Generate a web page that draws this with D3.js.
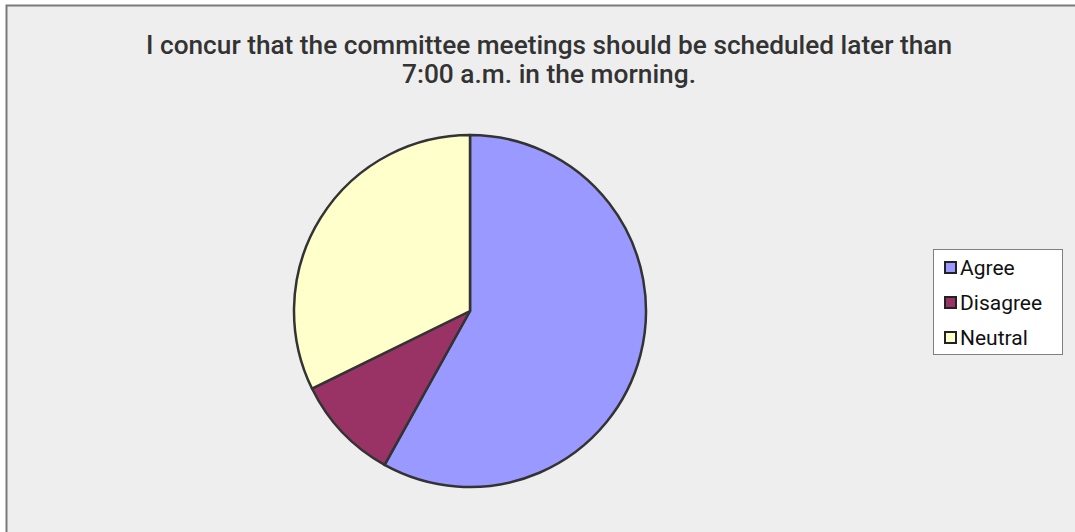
<!DOCTYPE html>
<html><head><meta charset="utf-8">
<script src="https://cdn.jsdelivr.net/npm/d3@7"></script>
<style>body{margin:0;background:#fff}svg{display:block}</style>
</head><body>
<svg id="c" width="1075" height="532"></svg>
<script>
const categories = ["Agree", "Disagree", "Neutral"];
const values = [18, 3, 10];
const colors = ["#9999FF", "#993366", "#FFFFCC"];
const titleLines = ["I concur that the committee meetings should be scheduled later than", "7:00 a.m. in the morning."];
const titleWidths = [806, 294];

const svg = d3.select("#c");
svg.append("rect").attr("x",0).attr("y",0).attr("width",1075).attr("height",532).attr("fill","#FFFFFF");
svg.append("rect").attr("x",6.5).attr("y",5.5).attr("width",1100).attr("height",560)
  .attr("fill","#EEEEEE").attr("stroke","#7A7A7A").attr("stroke-width",2);

const font = "Roboto,'Liberation Sans',sans-serif";
svg.append("g").selectAll("text").data(titleLines).join("text")
  .attr("x",549).attr("y",(d,i)=>54+i*29).attr("text-anchor","middle")
  .attr("font-family",font).attr("font-size",25).attr("font-weight",500).attr("fill","#333")
  .attr("textLength",(d,i)=>titleWidths[i]).attr("lengthAdjust","spacingAndGlyphs")
  .text(d=>d);

const pie = d3.pie().sort(null).value(d=>d)(values);
const arc = d3.arc().innerRadius(0).outerRadius(176);
const g = svg.append("g").attr("transform","translate(470,311)");
g.selectAll("path").data(pie).join("path").attr("d",arc)
  .attr("fill",(d,i)=>colors[i]).attr("stroke","#333").attr("stroke-width",2.5).attr("stroke-linejoin","round");

const lg = svg.append("g");
lg.append("rect").attr("x",933.5).attr("y",249.5).attr("width",129).attr("height",105)
  .attr("fill","#fff").attr("stroke","#808080").attr("stroke-width",1);
const rows = lg.selectAll("g.r").data(categories).join("g").attr("class","r")
  .attr("transform",(d,i)=>`translate(0,${267+i*35})`);
rows.append("rect").attr("x",945).attr("y",-5).attr("width",11).attr("height",11)
  .attr("fill",(d,i)=>colors[i]).attr("stroke","#222").attr("stroke-width",2);
rows.append("text").attr("x",960).attr("y",8).attr("font-family",font).attr("font-size",21)
  .attr("fill","#111").text(d=>d);
</script>
</body></html>
